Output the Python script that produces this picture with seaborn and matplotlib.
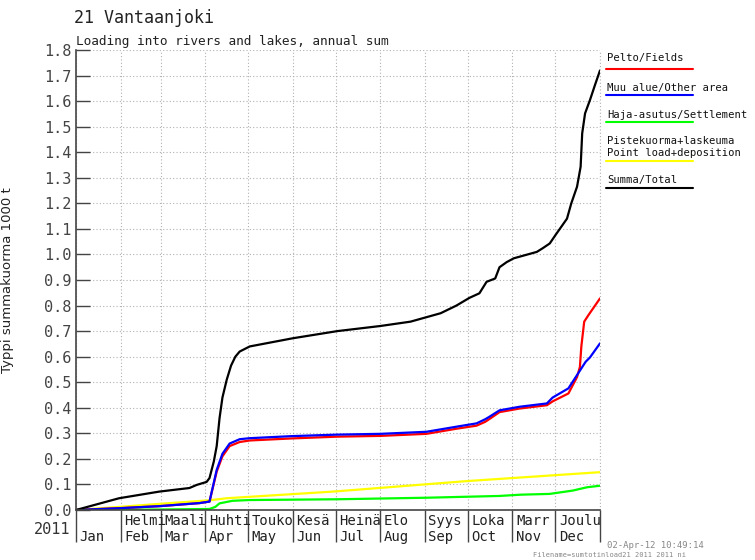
import numpy as np
import pandas as pd
import seaborn as sns
from matplotlib import pyplot as plt
from matplotlib.lines import Line2D
from matplotlib.transforms import blended_transform_factory

# day of year / cumulative load (1000 t)
days_fields = [0, 30, 58, 86, 93, 98, 102, 107, 114, 121, 150, 182, 212, 244, 265, 279, 285, 288,
               295, 309, 328, 332, 343, 349, 351, 352, 354, 357, 365]
fields = [0, 0.007, 0.015, 0.027, 0.033, 0.15, 0.21, 0.25, 0.266, 0.272, 0.28, 0.287, 0.29, 0.298,
          0.318, 0.33, 0.345, 0.356, 0.383, 0.397, 0.41, 0.425, 0.456, 0.52, 0.56, 0.64, 0.737, 0.763, 0.828]

days_other = [0, 30, 58, 86, 93, 98, 102, 107, 114, 121, 150, 182, 212, 244, 265, 279, 285, 288,
              295, 309, 328, 332, 343, 349, 355, 358, 365]
other = [0, 0.007, 0.015, 0.027, 0.033, 0.157, 0.22, 0.26, 0.277, 0.281, 0.289, 0.295, 0.298, 0.306,
         0.326, 0.339, 0.355, 0.365, 0.39, 0.404, 0.417, 0.44, 0.476, 0.528, 0.58, 0.597, 0.652]

days_settle = [0, 60, 93, 97, 100, 109, 121, 182, 244, 295, 310, 330, 346, 356, 365]
settle = [0, 0.002, 0.004, 0.012, 0.026, 0.036, 0.039, 0.042, 0.048, 0.055, 0.06, 0.063, 0.076, 0.089, 0.095]

days_point = [0, 30, 58, 93, 105, 179, 272, 365]
point = [0, 0.012, 0.024, 0.038, 0.046, 0.072, 0.113, 0.148]

days_total = [0, 30, 58, 79, 84, 91, 93, 96, 98, 100, 102, 105, 108, 111, 114, 121, 151, 182, 212,
              233, 254, 265, 274, 281, 286, 292, 295, 300, 305, 321, 325, 330, 334, 342, 345, 349,
              351.5, 352.6, 354.6, 358, 361.5, 365]
total = [0, 0.046, 0.072, 0.086, 0.098, 0.11, 0.125, 0.19, 0.25, 0.36, 0.44, 0.51, 0.565, 0.6, 0.62,
         0.64, 0.672, 0.70, 0.72, 0.737, 0.77, 0.80, 0.83, 0.848, 0.893, 0.906, 0.95, 0.97, 0.985,
         1.01, 1.024, 1.043, 1.076, 1.14, 1.2, 1.265, 1.343, 1.474, 1.552, 1.604, 1.663, 1.72]

month_start = [0, 31, 59, 90, 120, 151, 181, 212, 243, 273, 304, 334, 365]
months_fi = ['', 'Helmi', 'Maali', 'Huhti', 'Touko', 'Kesä', 'Heinä', 'Elo', 'Syys', 'Loka', 'Marr', 'Joulu']
months_en = ['Jan', 'Feb', 'Mar', 'Apr', 'May', 'Jun', 'Jul', 'Aug', 'Sep', 'Oct', 'Nov', 'Dec']

series = [('Pelto/Fields', days_fields, fields, 'red'),
          ('Muu alue/Other area', days_other, other, 'blue'),
          ('Haja-asutus/Settlement', days_settle, settle, '#00ff00'),
          ('Pistekuorma+laskeuma\nPoint load+deposition', days_point, point, '#ffff00'),
          ('Summa/Total', days_total, total, 'black')]

sns.set_theme(style='white')
plt.rcParams['font.family'] = ['DejaVu Sans Mono', 'DejaVu Sans']

fig = plt.figure(figsize=(7.55, 5.6), dpi=100)
ax = fig.add_axes([76/755, 50/560, 524/755, 460/560])

# draw order: green/yellow first, then red, blue, black
for i in [2, 3, 0, 1, 4]:
    name, d, v, c = series[i]
    sns.lineplot(x=d, y=v, color=c, linewidth=1.6, ax=ax)

ax.set_xlim(0, 365)
ax.set_ylim(0, 1.8)
yt = np.round(np.arange(0, 1.81, 0.1), 1)
ax.set_yticks(yt)
ax.set_yticklabels(['%.1f' % t for t in yt], fontsize=11, color='#444444')
ax.tick_params(axis='y', direction='in', length=10, width=1, color='#444444', left=True, pad=3)
ax.set_xticks(month_start)
ax.set_xticklabels([])
ax.tick_params(axis='x', direction='out', length=23, width=1, color='#444444', bottom=True)
ax.grid(True, color='#b0b0b0', linestyle=(0, (1, 2)), linewidth=0.8)
for s in ['top', 'right']:
    ax.spines[s].set_visible(False)
for s in ['left', 'bottom']:
    ax.spines[s].set_color('#444444')
    ax.spines[s].set_linewidth(1.2)
ax.plot([365, 365], [0, 1.8], color='#b0b0b0', linestyle=(0, (1, 2)), linewidth=0.8, clip_on=False)

ax.set_ylabel('Typpi summakuorma 1000 t', fontsize=9.5, family='DejaVu Sans', color='#222222', labelpad=22)

tr = blended_transform_factory(ax.transData, ax.transAxes)
for i in range(12):
    ax.text(month_start[i] + 2.5, -0.023, months_fi[i], transform=tr, fontsize=10,
            ha='left', va='center', color='#222222')
    ax.text(month_start[i] + 2.5, -0.058, months_en[i], transform=tr, fontsize=10,
            ha='left', va='center', color='#222222')
fig.text(52/755, 1 - 530/560, '2011', fontsize=11, ha='center', va='center', color='#333333')

fig.text(74/755, 1 - 18/560, '21 Vantaanjoki', fontsize=12, ha='left', va='center', color='#222222')
fig.text(76/755, 1 - 41/560, 'Loading into rivers and lakes, annual sum', fontsize=9.2,
         ha='left', va='center', color='#222222')

# legend on the right
leg_text_y = [58, 88, 115, 147, 180]
leg_line_y = [69, 95, 122, 161, 188]
for (name, d, v, c), ty, ly in zip(series, leg_text_y, leg_line_y):
    fig.text(607/755, 1 - ty/560, name, fontsize=7.6, ha='left', va='center',
             color='#111111', linespacing=1.25)
    fig.add_artist(Line2D([606/755, 693/755], [1 - ly/560, 1 - ly/560], color=c, linewidth=1.5))

fig.text(607/755, 1 - 545/560, '02-Apr-12 10:49:14', fontsize=6.5, ha='left', va='center', color='#888888')
fig.text(533/755, 1 - 555/560, 'Filename=sumtotinload21 2011 2011 ni', fontsize=5, ha='left',
         va='center', color='#888888')

fig.savefig('out.png', dpi=100)
